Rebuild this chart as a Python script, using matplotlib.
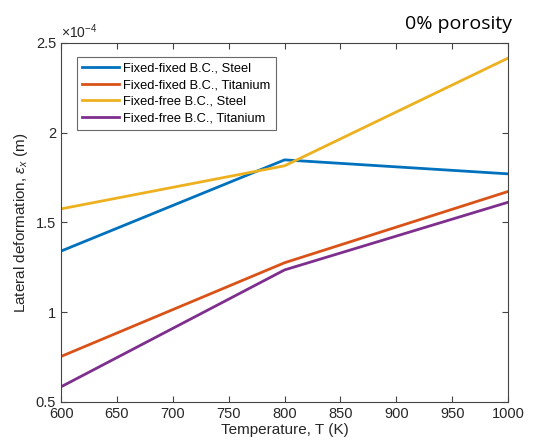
import matplotlib
matplotlib.use("Agg")
import matplotlib.pyplot as plt
from matplotlib.ticker import FuncFormatter

plt.rcParams['font.family'] = ['Liberation Sans', 'DejaVu Sans']
plt.rcParams['mathtext.fontset'] = 'custom'
plt.rcParams['mathtext.rm'] = 'Liberation Sans'
plt.rcParams['mathtext.it'] = 'Liberation Sans:italic'

# Temperatura (K)
temperature = [600, 800, 1000]

# Deformación lateral (m)
ff_steel = [1.34e-4, 1.848e-4, 1.77e-4]
ff_titanium = [0.753e-4, 1.275e-4, 1.672e-4]
free_steel = [1.575e-4, 1.815e-4, 2.415e-4]
free_titanium = [0.584e-4, 1.235e-4, 1.612e-4]

labels = ["Fixed-fixed B.C., Steel", "Fixed-fixed B.C., Titanium",
          "Fixed-free B.C., Steel", "Fixed-free B.C., Titanium"]
colors = ["#0072BD", "#D95319", "#EDB120", "#7E2F8E"]

scale = 1e-4

fig = plt.figure(figsize=(5.36, 4.46), dpi=100)
ax = fig.add_axes([0.114, 0.099, 0.834, 0.805])

series = [ff_steel, ff_titanium, free_steel, free_titanium]
for s, lab, c in zip(series, labels, colors):
    ax.plot(temperature, [v / scale for v in s], color=c, lw=2.0, label=lab)

ax.set_xlim(600, 1000)
ax.set_ylim(0.5, 2.5)
ax.set_xticks(range(600, 1001, 50))
ax.set_yticks([0.5, 1, 1.5, 2, 2.5])
ax.yaxis.set_major_formatter(FuncFormatter(lambda v, p: f"{v:g}"))
ax.tick_params(direction='in', top=True, right=True, labelsize=10.5,
               color='#444444', labelcolor='#262626', length=4)
for sp in ax.spines.values():
    sp.set_color('#444444')
    sp.set_linewidth(0.8)

ax.set_xlabel("Temperature, T (K)", fontsize=11, color='#262626', labelpad=2)
ax.set_ylabel(r"Lateral deformation, $\epsilon_x$ (m)", fontsize=11, color='#262626', labelpad=4)

ax.text(0.0, 1.005, r"$\times10^{-4}$", transform=ax.transAxes, fontsize=10,
        color='#262626', ha='left', va='bottom')

fig.text(0.856, 0.946, "0% porosity", fontsize=14, ha='center', va='center',
         family=['Open Sans', 'DejaVu Sans'])

leg = ax.legend(loc='upper left', bbox_to_anchor=(0.035, 0.96), fontsize=9.3,
                frameon=True, fancybox=False, edgecolor='#444444',
                handlelength=2.9, handletextpad=0.3, borderaxespad=0,
                labelspacing=0.36)
leg.get_frame().set_linewidth(0.8)

fig.savefig("out.png", dpi=100)
